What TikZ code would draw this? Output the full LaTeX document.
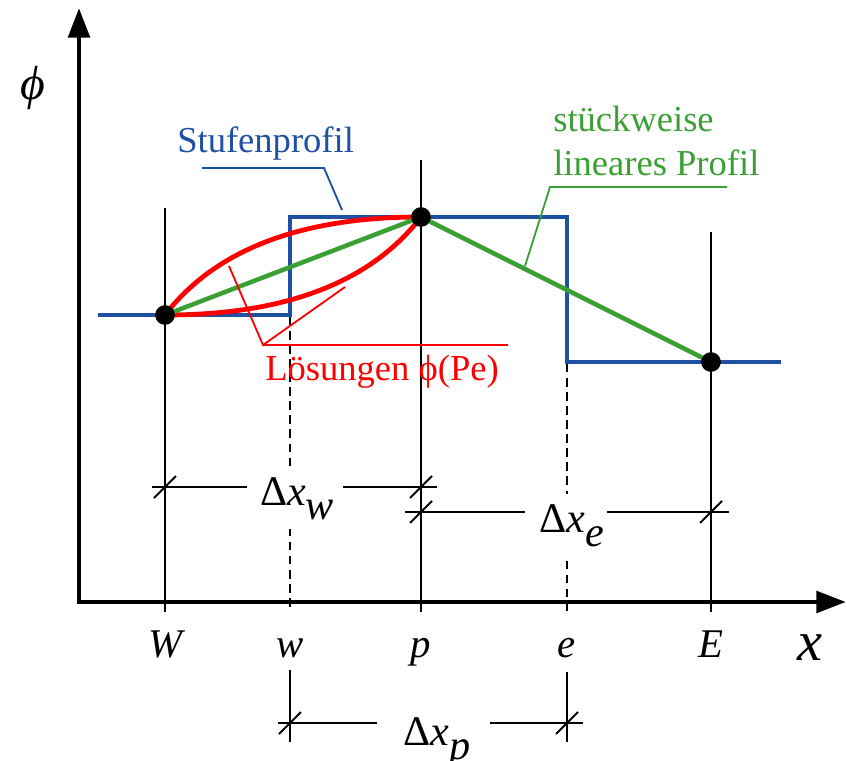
\documentclass[tikz,border=0pt]{standalone}
\usepackage{fontspec}
\setmainfont{Liberation Serif}
\usetikzlibrary{arrows.meta}
\definecolor{stufenblau}{RGB}{31,80,162}
\definecolor{lingruen}{RGB}{58,160,52}
\newcommand{\dx}[1]{Δ\textit{x}\raisebox{-10pt}{\textit{#1}}}
\newcommand{\strich}[1]{\draw[dim] (#1) ++(-11,11) -- ++(22,-22);}

\begin{document}
\begin{tikzpicture}[
  x=0.025cm, y=-0.025cm,
  achse/.style={line width=3.5pt, {Triangle[length=21pt, width=15pt]}-{Triangle[length=21pt, width=15pt]}},
  gitter/.style={line width=1.6pt},
  gestr/.style={gitter, dash pattern=on 6pt off 4pt},
  dim/.style={line width=1.4pt},
  stufe/.style={line width=3.4pt, stufenblau},
  linear/.style={line width=3.2pt, lingruen},
  loesung/.style={line width=3.4pt, red},
  leader/.style={line width=1.3pt},
  dot/.style={circle, fill=black, inner sep=0pt, minimum size=14pt},
  lbl/.style={inner sep=0pt, font=\fontsize{26}{31}\selectfont},
  var/.style={inner sep=0pt, anchor=base, font=\fontsize{29}{34}\selectfont\itshape},
  dimlbl/.style={anchor=base, fill=white, inner xsep=4pt, inner ysep=7pt, font=\fontsize{30}{36}\selectfont}
]
\useasboundingbox (0,0) rectangle (847,761);

\coordinate (ytip) at (79,8);
\coordinate (xtip) at (846,602);
\coordinate (pW) at (165,315);
\coordinate (pp) at (421,217);
\coordinate (pE) at (711,362);

\draw[gitter] (165,208) -- (165,612);
\draw[gitter] (421,160) -- (421,612);
\draw[gitter] (711,232) -- (711,612);
\draw[gestr] (290,317) -- (290,612);
\draw[gestr] (567,364) -- (567,612);
\draw[gitter] (290,670) -- (290,742);
\draw[gitter] (567,672) -- (567,742);

\draw[achse] (ytip) |- (xtip);

\draw[stufe] (98,315) -- (290,315) -- (290,217) -- (567,217) -- (567,362) -- (781,362);
\draw[loesung] (pW) .. controls (215,250) and (300,217) .. (pp);
\draw[loesung] (pW) .. controls (286,315) and (371,282) .. (pp);
\draw[linear] (pW) -- (pp) -- (pE);

\node[dot] (dW) at (pW) {};
\node[dot] (dp) at (pp) {};
\node[dot] (dE) at (pE) {};

\node[lbl, text=stufenblau, anchor=base west] (tstufe) at (177,153) {Stufenprofil};
\node[lbl, text=lingruen, anchor=north west, align=left] (tlin) at (553,106) {stückweise\\lineares Profil};
\node[lbl, text=red, anchor=base west] (tloes) at (265,380) {Lösungen ϕ(Pe)};

\coordinate (bs1) at (202,168);
\coordinate (bs2) at (324,168);
\coordinate (bs3) at (342,210);
\draw[leader, stufenblau] (bs1) -- (bs2) -- (bs3);
\coordinate (gl1) at (727,187);
\coordinate (gl2) at (550,187);
\coordinate (gl3) at (525,266);
\draw[leader, lingruen] (gl1) -- (gl2) -- (gl3);
\coordinate (rl1) at (508,345);
\coordinate (rl2) at (263,345);
\coordinate (rl3) at (229,266);
\coordinate (rl4) at (345,287);
\draw[leader, red] (rl1) -- (rl2) -- (rl3);
\draw[leader, red] (rl2) -- (rl4);

\node[var] (lW) at (165,657) {W};
\node[var] (lw) at (290,657) {w};
\node[var] (lp) at (421,657) {p};
\node[var] (le) at (567,657) {e};
\node[var] (lE) at (711,657) {E};
\node[var, font=\fontsize{40}{48}\selectfont\itshape] (lx) at (810,660) {x};
\node[inner sep=0pt, font=\fontsize{34}{40}\selectfont\itshape] (lphi) at (33,88) {ϕ};

\node[dimlbl] (ldw) at (297,505) {\dx{w}};
\coordinate (dwa) at (152,487);
\coordinate (dwa2) at (247,487);
\coordinate (dwb2) at (343,487);
\coordinate (dwb) at (437,487);
\draw[dim] (dwa) -- (dwa2);
\draw[dim] (dwb2) -- (dwb);
\node[dimlbl] (lde) at (572,532) {\dx{e}};
\coordinate (dea) at (405,512);
\coordinate (dea2) at (525,512);
\coordinate (deb2) at (607,512);
\coordinate (deb) at (729,512);
\draw[dim] (dea) -- (dea2);
\draw[dim] (deb2) -- (deb);
\node[dimlbl] (ldp) at (437,745) {\dx{p}};
\coordinate (dpa) at (278,723);
\coordinate (dpa2) at (377,723);
\coordinate (dpb2) at (490,723);
\coordinate (dpb) at (583,723);
\draw[dim] (dpa) -- (dpa2);
\draw[dim] (dpb2) -- (dpb);

\strich{165,487}
\strich{421,487}
\strich{421,512}
\strich{711,512}
\strich{290,723}
\strich{567,723}
\end{tikzpicture}
\end{document}
